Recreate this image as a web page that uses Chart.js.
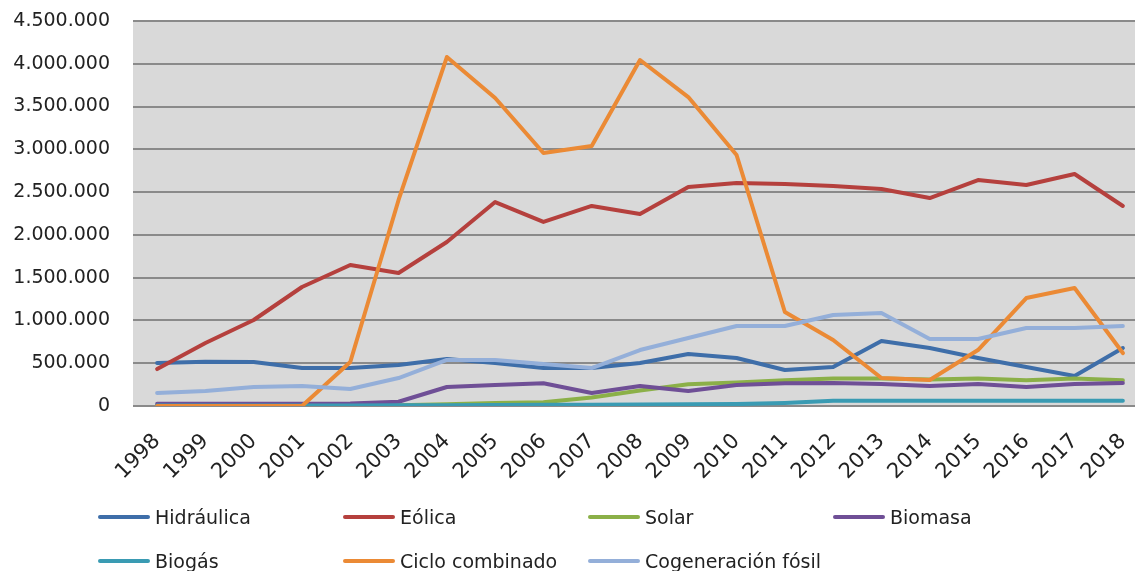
<!DOCTYPE html>
<html>
<head>
<meta charset="utf-8">
<script src="https://cdn.jsdelivr.net/npm/chart.js@4"></script>
<style>
  html, body { margin: 0; padding: 0; background: #fff; overflow: hidden; width: 1135px; height: 571px; }
  #wrap { position: absolute; left: 0; top: 0; width: 1150px; height: 490px; }
  #legend { position: absolute; left: 0; top: 0; width: 1135px; height: 571px; pointer-events: none; }
  .item { position: absolute; display: flex; align-items: center; font-family: "DejaVu Sans", sans-serif; font-size: 19px; color: #222; white-space: nowrap; }
  .swatch { width: 52px; height: 4px; border-radius: 2px; margin-right: 5px; }
</style>
</head>
<body>
<div id="wrap"><canvas id="c" width="1150" height="490"></canvas></div>
<div id="legend"></div>
<script>
const years = ["1998","1999","2000","2001","2002","2003","2004","2005","2006","2007","2008","2009","2010","2011","2012","2013","2014","2015","2016","2017","2018"];
const hidraulica = [502000,518000,514000,444000,444000,479000,549000,502000,444000,444000,502000,608000,561000,421000,456000,760000,678000,561000,456000,351000,678000];
const eolica = [432000,736000,1005000,1391000,1648000,1555000,1917000,2384000,2151000,2338000,2244000,2560000,2606000,2595000,2571000,2536000,2431000,2641000,2583000,2712000,2338000];
const solar = [5000,5000,5000,5000,8000,10000,20000,35000,45000,100000,180000,255000,275000,300000,320000,320000,310000,320000,300000,320000,300000];
const biomasa = [25000,25000,25000,25000,30000,50000,222000,245000,265000,152000,234000,175000,245000,265000,269000,257000,234000,257000,222000,257000,269000];
const biogas = [5000,5000,5000,5000,5000,8000,10000,12000,14000,16000,18000,20000,22000,35000,60000,62000,62000,62000,62000,62000,62000];
const cicloCombinado = [0,0,0,0,514000,2408000,4079000,3600000,2957000,3039000,4044000,3611000,2934000,1099000,771000,327000,304000,654000,1262000,1379000,619000];
const cogeneracion = [152000,175000,222000,234000,199000,327000,538000,538000,491000,444000,654000,795000,935000,935000,1064000,1087000,783000,783000,912000,912000,935000];

const seriesNames = ["Hidráulica","Eólica","Solar","Biomasa","Biogás","Ciclo combinado","Cogeneración fósil"];
const seriesData = [hidraulica, eolica, solar, biomasa, biogas, cicloCombinado, cogeneracion];
const seriesColors = ["#3e6ea9","#b5403d","#8bb048","#6f4f96","#3a9bb3","#eb8a35","#94afd9"];

const yTicks = [0,500000,1000000,1500000,2000000,2500000,3000000,3500000,4000000,4500000];

function fmt(v){ return String(Math.round(v)).replace(/\B(?=(\d{3})+(?!\d))/g, "."); }

const bgPlugin = {
  id: 'plotBg',
  beforeDraw(chart){
    const {ctx, chartArea:a} = chart;
    ctx.save();
    ctx.fillStyle = '#d9d9d9';
    ctx.fillRect(a.left, a.top, a.right - a.left, a.bottom - a.top);
    ctx.restore();
  }
};

const n = seriesNames.length;
new Chart(document.getElementById('c'), {
  type: 'line',
  data: {
    labels: years,
    datasets: seriesNames.map((name, i) => ({
      label: name,
      data: seriesData[i],
      borderColor: seriesColors[i],
      backgroundColor: seriesColors[i],
      borderWidth: 4,
      pointRadius: 0,
      tension: 0,
      borderJoinStyle: 'round',
      borderCapStyle: 'round',
      order: n - 1 - i
    }))
  },
  options: {
    responsive: false,
    animation: false,
    layout: { padding: { left: 0, right: 3, top: 21, bottom: 10 } },
    plugins: { legend: { display: false }, tooltip: { enabled: false } },
    scales: {
      x: {
        offset: true,
        grid: { display: false, drawTicks: false },
        border: { display: false },
        ticks: {
          minRotation: 45, maxRotation: 45, autoSkip: false,
          padding: 23,
          color: '#222',
          font: { family: 'DejaVu Sans', size: 21 }
        },
        afterFit(scale){
          scale.height = 490 - 406 - 10;
          scale.paddingLeft = 0; scale.paddingRight = 0;
        }
      },
      y: {
        min: 0, max: 4500000,
        afterBuildTicks(scale){ scale.ticks = yTicks.map(v => ({value: v})); },
        grid: { color: '#8a8a8a', lineWidth: 2, drawTicks: false },
        border: { display: false },
        ticks: {
          padding: 23,
          color: '#222',
          font: { family: 'DejaVu Sans', size: 19 },
          callback: v => fmt(v)
        },
        afterFit(scale){
          scale.width = 133;
          scale.paddingTop = 0; scale.paddingBottom = 0;
        }
      }
    }
  },
  plugins: [bgPlugin]
});

const legend = document.getElementById('legend');
const cols = [98, 343, 588, 833];
const rows = [517, 561];
seriesNames.forEach((name, i) => {
  const d = document.createElement('div');
  d.className = 'item';
  d.style.left = cols[i % 4] + 'px';
  d.style.top = (rows[Math.floor(i / 4)] - 12) + 'px';
  d.style.height = '24px';
  const s = document.createElement('span');
  s.className = 'swatch';
  s.style.background = seriesColors[i];
  const t = document.createElement('span');
  t.textContent = name;
  d.appendChild(s); d.appendChild(t);
  legend.appendChild(d);
});
</script>
</body>
</html>
